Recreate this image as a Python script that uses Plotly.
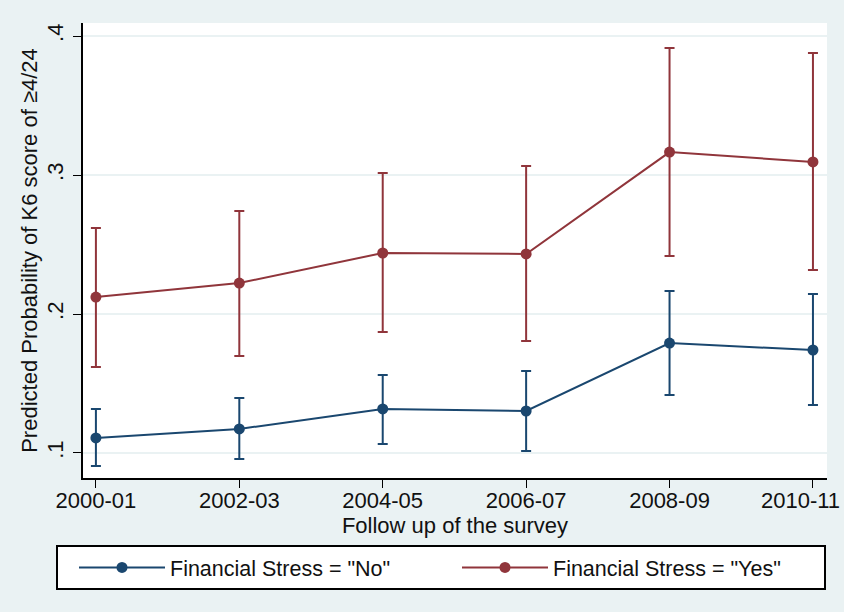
import plotly.graph_objects as go

# Survey waves and predicted probabilities (with 95% CI) by financial stress group
waves = ["2000-01", "2002-03", "2004-05", "2006-07", "2008-09", "2010-11"]

no_prob = [0.1108, 0.1173, 0.1317, 0.1302, 0.1791, 0.1741]
no_upper = [0.1317, 0.1396, 0.1561, 0.1590, 0.2165, 0.2144]
no_lower = [0.0906, 0.0957, 0.1065, 0.1014, 0.1417, 0.1345]

yes_prob = [0.2122, 0.2223, 0.2439, 0.2432, 0.3165, 0.3094]
yes_upper = [0.2619, 0.2741, 0.3014, 0.3065, 0.3914, 0.3878]
yes_lower = [0.1619, 0.1698, 0.1871, 0.1806, 0.2417, 0.2317]

y_ticks = [0.1, 0.2, 0.3, 0.4]
y_tick_labels = [".1", ".2", ".3", ".4"]

NAVY = "#1a476f"
MAROON = "#90353b"
BG = "#eaf2f3"
FONT = "Liberation Sans, Arial, sans-serif"
INK = "#111111"

xpos = list(range(len(waves)))
# the last wave label sits against the page edge, so it is drawn as a
# right-aligned annotation under its tick instead of a centred tick label
x_tick_text = waves[:-1] + [""]


def series(name, prob, upper, lower, color):
    return go.Scatter(
        x=xpos,
        y=prob,
        name=name,
        mode="lines+markers",
        line=dict(color=color, width=2),
        marker=dict(color=color, size=11, symbol="circle"),
        error_y=dict(
            type="data",
            symmetric=False,
            array=[u - p for u, p in zip(upper, prob)],
            arrayminus=[p - l for p, l in zip(prob, lower)],
            color=color,
            thickness=2,
            width=5,
        ),
    )


fig = go.Figure()
fig.add_trace(series('Financial Stress = "No"', no_prob, no_upper, no_lower, NAVY))
fig.add_trace(series('Financial Stress = "Yes"', yes_prob, yes_upper, yes_lower, MAROON))

# plot area: x 83..827, y 23..478 in an 844x612 page
fig.update_layout(
    width=844,
    height=612,
    margin=dict(l=83, r=17, t=23, b=134, autoexpand=False),
    paper_bgcolor=BG,
    plot_bgcolor="white",
    font=dict(family=FONT, size=22, color=INK),
    showlegend=True,
    legend=dict(
        orientation="h",
        x=(56 - 83) / 744,
        xanchor="left",
        y=(478 - 545) / 455,
        yanchor="top",
        bgcolor="white",
        bordercolor="black",
        borderwidth=2,
        itemwidth=86,
        indentation=16,
        entrywidth=266,
        entrywidthmode="pixels",
        font=dict(family=FONT, size=21.5, color=INK),
    ),
    annotations=[
        dict(
            text=waves[-1],
            xref="x",
            x=xpos[-1],
            yref="paper",
            y=0,
            xanchor="right",
            yanchor="middle",
            xshift=29,
            yshift=-22,
            showarrow=False,
            font=dict(family=FONT, size=22, color=INK),
        )
    ],
)

fig.update_xaxes(
    range=[-0.09, 5.098],
    tickmode="array",
    tickvals=xpos,
    ticktext=x_tick_text,
    tickfont=dict(size=22),
    ticklabelstandoff=-6,
    automargin=False,
    ticks="outside",
    ticklen=8,
    tickwidth=1,
    tickcolor="black",
    showline=True,
    linecolor="black",
    linewidth=1.5,
    showgrid=False,
    zeroline=False,
    title=dict(text="Follow up of the survey", standoff=0, font=dict(size=22)),
)

fig.update_yaxes(
    range=[0.082, 0.4094],
    tickmode="array",
    tickvals=y_ticks,
    ticktext=y_tick_labels,
    tickangle=-90,
    tickfont=dict(size=22),
    ticklabelstandoff=1,
    automargin=False,
    ticks="outside",
    ticklen=8,
    tickwidth=1,
    tickcolor="black",
    showline=True,
    linecolor="black",
    linewidth=1.5,
    showgrid=True,
    gridcolor=BG,
    gridwidth=1.5,
    zeroline=False,
    title=dict(text="Predicted Probability of K6 score of ≥4/24", standoff=0, font=dict(size=22)),
)

fig.write_html("out.html")
